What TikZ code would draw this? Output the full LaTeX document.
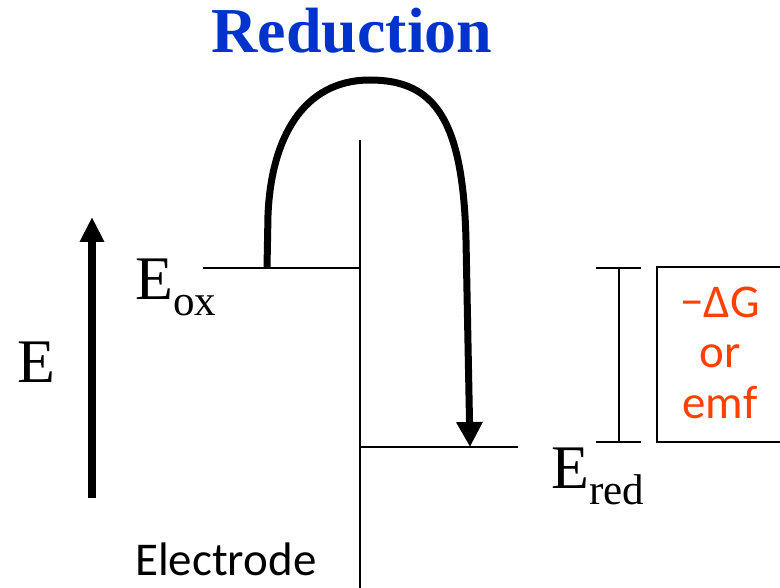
\documentclass[tikz,border=0pt]{standalone}
\usepackage{fontspec}
\setmainfont{Liberation Serif}
\newfontfamily\carlito{Carlito}
\usetikzlibrary{arrows.meta}
\definecolor{titleblue}{RGB}{0,51,204}
\definecolor{emforange}{RGB}{255,64,0}
\tikzset{
  thinline/.style={line width=1.5pt, black},
  bigarrow/.style={line width=7pt, -{Triangle[length=25pt,width=25pt]}},
  uparrow/.style={line width=8pt, -{Triangle[length=25pt,width=23pt]}},
  serifbig/.style={inner sep=0pt, font=\fontsize{62}{62}\selectfont},
  sanslabel/.style={inner sep=0pt, font=\carlito\fontsize{47}{50}\selectfont},
}
\begin{document}
\begin{tikzpicture}[x=1pt,y=-1pt]
\useasboundingbox (0,0) rectangle (780,588);
% title
\node[inner sep=0pt, anchor=base, text=titleblue, font=\bfseries\fontsize{64}{64}\selectfont] (title) at (352,53) {Reduction};
% electrode
\coordinate (etop) at (360,140);
\coordinate (ebot) at (360,590);
\draw[thinline] (etop) -- (ebot);
% levels
\coordinate (oxL) at (203,268);
\coordinate (oxR) at (360,268);
\coordinate (redL) at (360,447);
\coordinate (redR) at (518,447);
\draw[thinline] (oxL) -- (oxR);
\draw[thinline] (redL) -- (redR);
% curved electron transfer arrow
\coordinate (cstart) at (267,268);
\coordinate (cend) at (470,447);
\draw[bigarrow] (cstart) -- (268,215) .. controls (271,140) and (302,80) .. (370,80)
  .. controls (435,80) and (463,120) .. (466,240) -- (cend);
% energy axis
\coordinate (ebottom) at (92,498);
\coordinate (etip) at (92,217);
\draw[uparrow] (ebottom) -- (etip);
\node[serifbig, anchor=base west] (Elab) at (17,382) {E};
% labels
\node[serifbig, anchor=base west] (Eox) at (135,300) {E\raisebox{-16pt}{\fontsize{43}{43}\selectfont ox}};
\node[serifbig, anchor=base west] (Ered) at (551,488) {E\raisebox{-16pt}{\fontsize{43}{43}\selectfont red}};
% bracket
\coordinate (bt) at (619,268);
\coordinate (bb) at (619,442);
\draw[thinline] (596,268) -- (641,268);
\draw[thinline] (596,442) -- (641,442);
\draw[thinline] (bt) -- (bb);
% box
\draw[thinline] (782,267) -- (657,267) -- (657,442) -- (782,442);
\node[sanslabel, text=emforange, anchor=base] (dg) at (720,318) {−ΔG};
\node[sanslabel, text=emforange, anchor=base] (or) at (720,368) {or};
\node[sanslabel, text=emforange, anchor=base] (emf) at (720,418) {emf};
% electrode label
\node[sanslabel, anchor=base west] (elec) at (135,575) {Electrode};
\end{tikzpicture}
\end{document}
